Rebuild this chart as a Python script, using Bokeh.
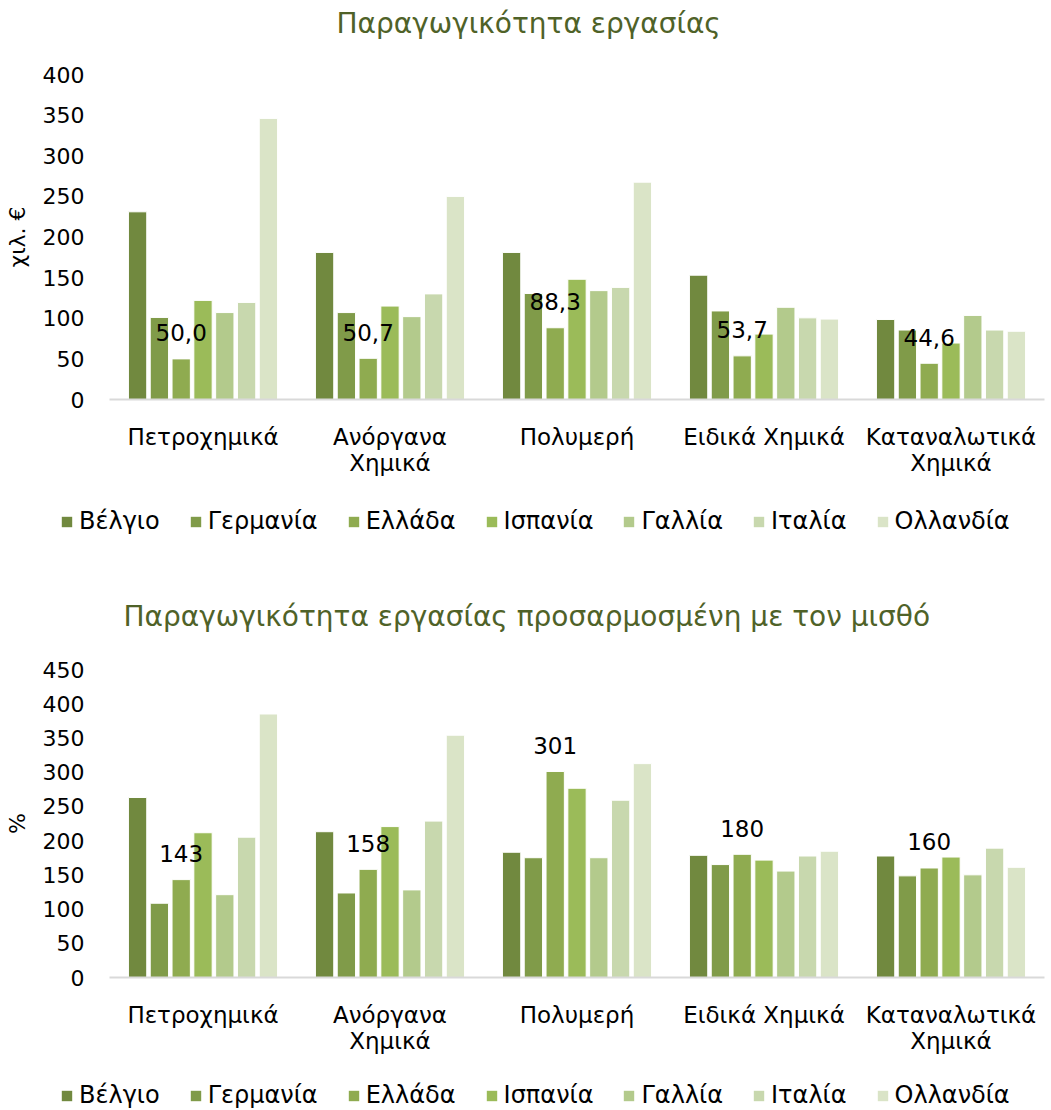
from bokeh.plotting import figure
from bokeh.models import (ColumnDataSource, Range1d, SingleIntervalTicker, FixedTicker,
                          Legend, LegendItem, LabelSet, LinearAxis, Title)
from bokeh.transform import dodge
from bokeh.layouts import column
from bokeh.core.properties import value
from bokeh.embed import file_html
from bokeh.resources import INLINE

# ---------------- data ----------------
categories = ["Πετροχημικά", "Ανόργανα Χημικά", "Πολυμερή", "Ειδικά Χημικά", "Καταναλωτικά Χημικά"]
category_line1 = ["Πετροχημικά", "Ανόργανα", "Πολυμερή", "Ειδικά Χημικά", "Καταναλωτικά"]
category_line2 = ["", "Χημικά", "", "", "Χημικά"]
countries = ["Βέλγιο", "Γερμανία", "Ελλάδα", "Ισπανία", "Γαλλία", "Ιταλία", "Ολλανδία"]
colors = ["#71893F", "#809B49", "#8FAB50", "#9BBB59", "#B3CA8C", "#C8D8AE", "#DAE4C7"]

# Labour productivity (thousand €)
prod_belgium = [231, 181, 181, 153, 98.5]
prod_germany = [101, 107, 130.5, 109, 85.5]
prod_greece = [50.0, 50.7, 88.3, 53.7, 44.6]
prod_spain = [122, 115, 148, 80.5, 69.5]
prod_france = [107, 102, 134, 113.5, 103.5]
prod_italy = [119.5, 130, 138, 100.5, 85.5]
prod_netherlands = [346, 250, 267.5, 99, 84]

# Wage-adjusted labour productivity (%)
wadj_belgium = [263, 213, 183, 178.5, 177.5]
wadj_germany = [108.5, 123.5, 175, 165, 148.5]
wadj_greece = [143, 158, 301, 180, 160]
wadj_spain = [211.5, 220.5, 276.5, 171.5, 176]
wadj_france = [121, 128, 175, 155.5, 150]
wadj_italy = [205, 228.5, 259, 177.5, 189]
wadj_netherlands = [385, 354, 312.5, 184.5, 161]

title_top = "Παραγωγικότητα εργασίας"
title_bottom = "Παραγωγικότητα εργασίας προσαρμοσμένη με τον μισθό"
ylabel_top = "χιλ. €"
ylabel_bottom = "%"

FONT = "DejaVu Sans"
CANVAS_W = 1051
LEFT = 109
FRAME_W = 935
STEP = 0.1166
BAR_W = 0.098
LEG_FONT = "24px"
LEG_SPACING = 29
cat_pos = list(range(len(categories)))


def make_chart(series, title, ylabel, ymax, label_texts, border_top, frame_h,
               border_bottom, title_offset, spacer_size):
    src = ColumnDataSource(dict(pos=cat_pos, **{f"s{j}": v for j, v in enumerate(series)},
                                lbl=label_texts))
    p = figure(x_range=Range1d(-0.5, len(categories) - 0.5),
               y_range=Range1d(0, ymax),
               frame_width=FRAME_W, frame_height=frame_h,
               min_border_left=LEFT, min_border_right=CANVAS_W - LEFT - FRAME_W,
               min_border_top=border_top, min_border_bottom=border_bottom,
               output_backend="svg", toolbar_location=None)
    p.outline_line_color = None
    p.xgrid.grid_line_color = None
    p.ygrid.grid_line_color = None
    p.background_fill_color = "white"
    p.border_fill_color = "white"

    # spacer between frame and title, then the title itself
    p.add_layout(Title(text=" ", text_font=FONT, text_font_size=f"{spacer_size}px",
                       standoff=0), "above")
    p.add_layout(Title(text=title, align="left", offset=title_offset, standoff=0,
                       text_font=FONT, text_font_size="28px", text_font_style="normal",
                       text_color="#4F6228"), "above")

    for j, vals in enumerate(series):
        off = (j - 3) * STEP
        p.vbar(x=dodge("pos", off), top=f"s{j}", width=BAR_W,
               source=src, fill_color=colors[j], line_color="white", line_width=1)

    # data labels for Greece
    labels = LabelSet(x=dodge("pos", -STEP), y="s2", text="lbl", source=src,
                      y_offset=26, text_align="center", text_baseline="middle",
                      text_font=value(FONT), text_font_size="23px", text_color="black")
    p.add_layout(labels)

    # y axis
    p.yaxis.ticker = SingleIntervalTicker(interval=50)
    p.yaxis.axis_line_color = None
    p.yaxis.major_tick_line_color = None
    p.yaxis.minor_tick_line_color = None
    p.yaxis.major_label_text_font = FONT
    p.yaxis.major_label_text_font_size = "22px"
    p.yaxis.major_label_text_color = "black"
    p.yaxis.major_label_standoff = 19
    p.yaxis.axis_label = ylabel
    p.yaxis.axis_label_text_font = FONT
    p.yaxis.axis_label_text_font_size = "22px"
    p.yaxis.axis_label_text_font_style = "normal"
    p.yaxis.axis_label_text_color = "black"
    p.yaxis.axis_label_standoff = 10

    # x axis: first line of category names
    xa = p.xaxis[0]
    xa.ticker = FixedTicker(ticks=cat_pos)
    xa.axis_line_color = "#D9D9D9"
    xa.axis_line_width = 2
    xa.major_tick_line_color = None
    xa.minor_tick_line_color = None
    xa.major_label_text_font = FONT
    xa.major_label_text_font_size = "23px"
    xa.major_label_text_color = "black"
    xa.major_label_standoff = 18
    xa.major_label_overrides = dict(zip(cat_pos, category_line1))

    # second line of category names
    xa2 = LinearAxis(ticker=FixedTicker(ticks=cat_pos), axis_line_color=None,
                     major_tick_line_color=None, minor_tick_line_color=None,
                     major_label_text_font=FONT, major_label_text_font_size="23px",
                     major_label_text_color="black", major_label_standoff=-9,
                     major_label_overrides=dict(zip(cat_pos, category_line2)))
    p.add_layout(xa2, "below")
    return p


def make_legend(height, center_from_top):
    lp = figure(width=CANVAS_W, height=height, x_range=Range1d(0, 1), y_range=Range1d(0, 1),
                min_border=0, x_axis_location=None, y_axis_location=None,
                output_backend="svg", toolbar_location=None)
    if "frame_align" in lp.properties():
        lp.frame_align = False
    lp.outline_line_color = None
    lp.xgrid.grid_line_color = None
    lp.ygrid.grid_line_color = None
    lp.background_fill_color = "white"
    lp.border_fill_color = "white"
    # legend-only renderers: zero-height bars placed outside the visible range
    rs = [lp.vbar(x=[-10], top=[0], width=0.1, fill_color=c, line_color=None)
          for c in colors]
    pad = 3
    leg_h = 2 * pad + 28
    leg = Legend(items=[LegendItem(label=c, renderers=[r]) for c, r in zip(countries, rs)],
                 orientation="horizontal",
                 location=(63 - pad, height - center_from_top - leg_h / 2),
                 label_text_font=FONT, label_text_font_size=LEG_FONT, label_text_color="black",
                 glyph_width=13, glyph_height=13, label_standoff=6, spacing=LEG_SPACING,
                 padding=pad, margin=0, border_line_color=None, background_fill_alpha=0)
    lp.add_layout(leg, "center")
    return lp


top_series = [prod_belgium, prod_germany, prod_greece, prod_spain, prod_france, prod_italy,
              prod_netherlands]
bot_series = [wadj_belgium, wadj_germany, wadj_greece, wadj_spain, wadj_france, wadj_italy,
              wadj_netherlands]

top_labels = [f"{v:.1f}".replace(".", ",") for v in prod_greece]
bot_labels = [f"{v:.0f}" for v in wadj_greece]

p1 = make_chart(top_series, title_top, ylabel_top, 400, top_labels,
                border_top=74, frame_h=325, border_bottom=96, title_offset=227,
                spacer_size=28)
l1 = make_legend(50, 23)
p2 = make_chart(bot_series, title_bottom, ylabel_bottom, 450, bot_labels,
                border_top=124, frame_h=308, border_bottom=88, title_offset=14,
                spacer_size=30)
l2 = make_legend(45, 27)

layout = column(p1, l1, p2, l2, spacing=0)
open("out.html", "w").write(file_html(layout, INLINE))
